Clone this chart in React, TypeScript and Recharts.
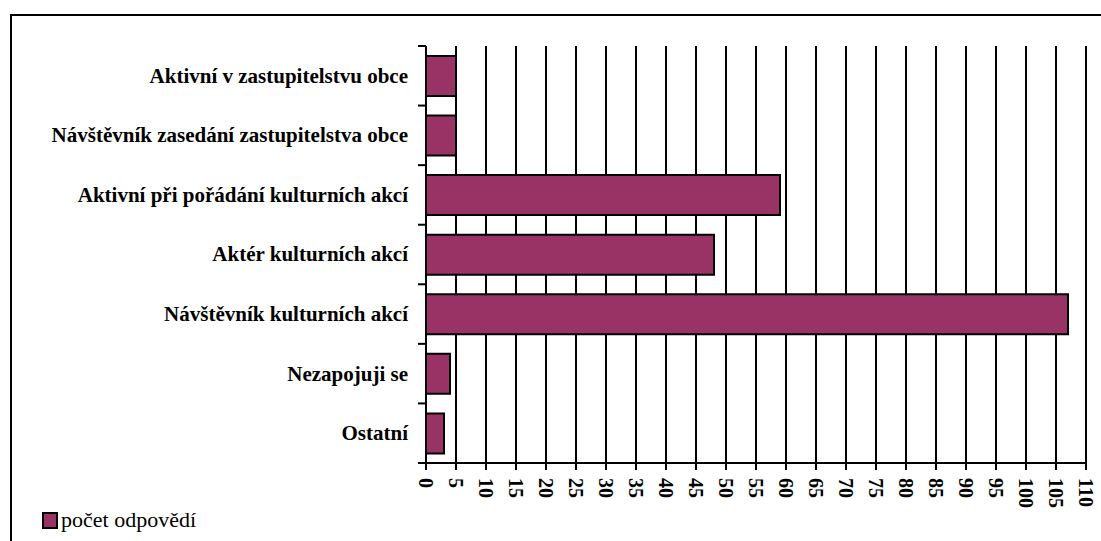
import React from "react";
import { Bar, BarChart, CartesianGrid, XAxis, YAxis } from "recharts";

const categories = [
  "Aktivní v zastupitelstvu obce",
  "Návštěvník zasedání zastupitelstva obce",
  "Aktivní při pořádání kulturních akcí",
  "Aktér kulturních akcí",
  "Návštěvník kulturních akcí",
  "Nezapojuji se",
  "Ostatní",
];

const counts = [5, 5, 59, 48, 107, 4, 3];

const xTicks = [0, 5, 10, 15, 20, 25, 30, 35, 40, 45, 50, 55, 60, 65, 70, 75, 80, 85, 90, 95, 100, 105, 110];

const seriesName = "počet odpovědí";

const data = categories.map((name, i) => ({ name, value: counts[i] }));

const W = 1101;
const H = 541;
const MARGIN = { top: 46, right: 15, bottom: 18, left: 0 };
const X_AXIS_H = 60;
const Y_AXIS_W = 426;
const PLOT_H = H - MARGIN.top - MARGIN.bottom - X_AXIS_H;
const BAND = PLOT_H / categories.length;

const FONT = '"Liberation Serif", "Times New Roman", serif';
const PLUM = "#993366";

function CategoryTick(props: any) {
  const { x, y, payload, index } = props;
  const lineX = x + 10;
  return (
    <g>
      <line x1={lineX} x2={lineX + 8} y1={y - BAND / 2} y2={y - BAND / 2} stroke="#000" strokeWidth={2} />
      {index === categories.length - 1 && (
        <line x1={lineX} x2={lineX + 8} y1={y + BAND / 2} y2={y + BAND / 2} stroke="#000" strokeWidth={2} />
      )}
      <text
        x={x}
        y={y}
        dy="0.33em"
        textAnchor="end"
        fontFamily={FONT}
        fontWeight="bold"
        fontSize={21}
        fill="#000"
      >
        {payload.value}
      </text>
    </g>
  );
}

function ValueTick(props: any) {
  const { x, y, payload } = props;
  return (
    <text
      x={x}
      y={y}
      dy="0.35em"
      transform={`rotate(90, ${x}, ${y})`}
      textAnchor="start"
      fontFamily={FONT}
      fontWeight="bold"
      fontSize={20}
      fill="#000"
    >
      {payload.value}
    </text>
  );
}

export default function App() {
  return (
    <div style={{ position: "absolute", left: 0, top: 0, width: W, height: H, background: "#fff", overflow: "hidden" }}>
      <div
        style={{
          position: "absolute",
          left: 10,
          top: 14,
          width: W,
          height: H,
          borderTop: "2px solid #000",
          borderLeft: "2px solid #000",
        }}
      />
      <div style={{ position: "absolute", left: 0, top: 0 }}>
        <BarChart
          width={W}
          height={H}
          data={data}
          layout="vertical"
          margin={MARGIN}
          barCategoryGap="16.7%"
        >
          <CartesianGrid horizontal={false} stroke="#000" strokeWidth={2} />
          <XAxis
            type="number"
            domain={[0, 110]}
            ticks={xTicks}
            interval={0}
            height={X_AXIS_H}
            axisLine={{ stroke: "#000", strokeWidth: 2 }}
            tickLine={{ stroke: "#000", strokeWidth: 2 }}
            tickSize={7}
            tickMargin={8}
            tick={<ValueTick />}
          />
          <YAxis
            type="category"
            dataKey="name"
            width={Y_AXIS_W}
            interval={0}
            axisLine={{ stroke: "#000", strokeWidth: 2 }}
            tickLine={false}
            tickSize={8}
            tickMargin={10}
            tick={<CategoryTick />}
          />
          <Bar dataKey="value" name={seriesName} fill={PLUM} stroke="#000" strokeWidth={2} isAnimationActive={false} />
        </BarChart>
      </div>
      <div style={{ position: "absolute", left: 42, top: 509, display: "flex", alignItems: "center" }}>
        <div style={{ width: 12, height: 13, background: PLUM, border: "2px solid #000" }} />
        <span style={{ fontFamily: FONT, fontSize: 22, marginLeft: 3, lineHeight: "22px", color: "#000" }}>
          {seriesName}
        </span>
      </div>
    </div>
  );
}
